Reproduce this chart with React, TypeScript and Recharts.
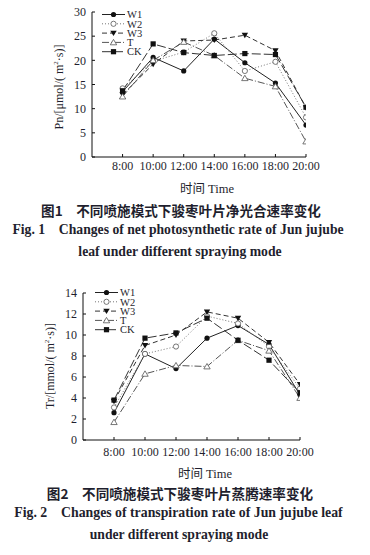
import React from 'react';
import { LineChart, Line, XAxis, YAxis } from 'recharts';

const times = [8, 10, 12, 14, 16, 18, 20];
const timeLabels = ['8:00', '10:00', '12:00', '14:00', '16:00', '18:00', '20:00'];
const seriesNames = ['W1', 'W2', 'W3', 'T', 'CK'];

// Fig. 1 net photosynthetic rate
const pnW1 = [13.5, 20.6, 17.8, 24.4, 19.5, 15.3, 6.6];
const pnW2 = [14.2, 19.8, 21.7, 25.6, 17.8, 19.7, 8.2];
const pnW3 = [12.9, 19.2, 24.0, 24.2, 25.2, 22.0, 10.2];
const pnT = [12.5, 20.0, 23.8, 21.0, 16.3, 14.6, 3.2];
const pnCK = [13.7, 23.4, 21.6, 21.0, 21.4, 21.2, 10.3];
const pnTicks = [0, 5, 10, 15, 20, 25, 30];

// Fig. 2 transpiration rate
const trW1 = [2.6, 8.2, 6.8, 9.7, 10.9, 9.1, 4.3];
const trW2 = [3.1, 8.2, 8.9, 11.8, 11.1, 8.9, 4.9];
const trW3 = [3.7, 9.0, 10.0, 12.2, 11.6, 9.3, 5.3];
const trT = [1.7, 6.3, 7.1, 7.0, 9.5, 8.5, 4.0];
const trCK = [3.8, 9.7, 10.2, 11.6, 9.5, 7.6, 4.5];
const trTicks = [0, 2, 4, 6, 8, 10, 12, 14];

type Shape = 'dot' | 'ring' | 'down' | 'up' | 'square';

const styles: Record<string, { dash?: string; color: string; shape: Shape }> = {
  W1: { color: '#222', shape: 'dot' },
  W2: { dash: '1 2', color: '#777', shape: 'ring' },
  W3: { dash: '5 3', color: '#333', shape: 'down' },
  T: { dash: '7 2 1 2', color: '#555', shape: 'up' },
  CK: { dash: '9 3', color: '#333', shape: 'square' },
};

const makeRows = (cols: number[][]) =>
  times.map((t, i) => {
    const row: Record<string, number> = { t };
    seriesNames.forEach((n, j) => (row[n] = cols[j][i]));
    return row;
  });

const pnData = makeRows([pnW1, pnW2, pnW3, pnT, pnCK]);
const trData = makeRows([trW1, trW2, trW3, trT, trCK]);

const Marker = ({ shape, cx, cy }: { shape: Shape; cx: number; cy: number }) => {
  switch (shape) {
    case 'dot':
      return <circle cx={cx} cy={cy} r={2.6} fill="#111" />;
    case 'ring':
      return <circle cx={cx} cy={cy} r={2.6} fill="#fff" stroke="#555" strokeWidth={0.8} />;
    case 'down':
      return <path d={`M${cx - 3.2},${cy - 2.4}L${cx + 3.2},${cy - 2.4}L${cx},${cy + 3}Z`} fill="#111" />;
    case 'up':
      return <path d={`M${cx - 3.2},${cy + 2.4}L${cx + 3.2},${cy + 2.4}L${cx},${cy - 3}Z`} fill="#fff" stroke="#555" strokeWidth={0.8} />;
    default:
      return <rect x={cx - 2.6} y={cy - 2.6} width={5.2} height={5.2} fill="#111" />;
  }
};

const dotFor = (shape: Shape) => (p: any) => (
  <Marker key={p.key ?? `${p.dataKey}-${p.index}`} shape={shape} cx={p.cx} cy={p.cy} />
);

const textFont = '"Liberation Serif", "Times New Roman", serif';
const tickStyle = { fontSize: 12, fill: '#1f1f2e', fontFamily: textFont };

const LegendBox = ({ left, top }: { left: number; top: number }) => (
  <svg width={60} height={50} style={{ position: 'absolute', left, top, overflow: 'visible' }}>
    {seriesNames.map((n, i) => {
      const y = 4.5 + i * 9.3;
      const s = styles[n];
      return (
        <g key={n}>
          <line x1={0} x2={23} y1={y} y2={y} stroke={s.color} strokeDasharray={s.dash} />
          <Marker shape={s.shape} cx={11.5} cy={y} />
          <text x={25} y={y} dy="0.36em" style={{ ...tickStyle, fontSize: 10.5 }}>{n}</text>
        </g>
      );
    })}
  </svg>
);

const Panel = ({ data, ticks, yMax, margin, tickMarginX }: any) => (
  <LineChart width={370} height={200} data={data} margin={margin}>
    <XAxis
      type="number"
      dataKey="t"
      domain={[6, 20]}
      ticks={times}
      interval={0}
      tickFormatter={(v: number) => timeLabels[times.indexOf(v)]}
      tick={tickStyle}
      tickSize={-3}
      tickMargin={tickMarginX}
      height={30}
      stroke="#111"
      allowDataOverflow
    />
    <YAxis
      type="number"
      domain={[0, yMax]}
      ticks={ticks}
      tick={tickStyle}
      tickSize={-3}
      tickMargin={9}
      width={40}
      stroke="#111"
      interval={0}
    />
    {seriesNames.map((n) => (
      <Line
        key={n}
        dataKey={n}
        stroke={styles[n].color}
        strokeWidth={1}
        strokeDasharray={styles[n].dash}
        dot={dotFor(styles[n].shape)}
        activeDot={false}
        isAnimationActive={false}
        type="linear"
      />
    ))}
  </LineChart>
);

const abs = (extra: React.CSSProperties): React.CSSProperties => ({
  position: 'absolute',
  whiteSpace: 'pre',
  color: '#1f1f2e',
  ...extra,
});

const App = () => (
  <div style={{ position: 'absolute', left: 0, top: 0, width: 370, height: 555, background: '#fff', overflow: 'hidden' }}>
    <div style={{ position: 'absolute', left: 0, top: 0 }}>
      <Panel data={pnData} ticks={pnTicks} yMax={30} margin={{ top: 12, right: 64, bottom: 13, left: 52 }} tickMarginX={7} />
    </div>
    <LegendBox left={102} top={9.5} />
    <div style={abs({ left: 59, top: 87, fontFamily: textFont, fontSize: 12, transform: 'translate(-50%, -50%) rotate(-90deg)' })}>
      Pn/[μmol/( m<sup style={{ fontSize: 7 }}>2</sup>·s)]
    </div>
    <div style={abs({ left: 0, width: 414, top: 178, textAlign: 'center', fontFamily: `${textFont}, "Noto Sans CJK SC"`, fontSize: 12.5 })}>时间 Time</div>
    <div style={abs({ left: 0, width: 362, top: 200, textAlign: 'center', fontFamily: '"Noto Sans CJK SC"', fontWeight: 700, fontSize: 13.6 })}>
      图1　不同喷施模式下骏枣叶片净光合速率变化
    </div>
    <div style={abs({ left: 0, width: 356, top: 222, textAlign: 'center', fontFamily: textFont, fontWeight: 700, fontSize: 13.7 })}>
      Fig. 1    Changes of net photosynthetic rate of Jun jujube
    </div>
    <div style={abs({ left: 0, width: 360, top: 244, textAlign: 'center', fontFamily: textFont, fontWeight: 700, fontSize: 13.7 })}>
      leaf under different spraying mode
    </div>

    <div style={{ position: 'absolute', left: 0, top: 270 }}>
      <Panel data={trData} ticks={trTicks} yMax={14} margin={{ top: 23, right: 70, bottom: 0, left: 43 }} tickMarginX={10} />
    </div>
    <LegendBox left={95} top={288} />
    <div style={abs({ left: 50, top: 366, fontFamily: textFont, fontSize: 12, transform: 'translate(-50%, -50%) rotate(-90deg)' })}>
      Tr/[mmol/( m<sup style={{ fontSize: 7 }}>2</sup>·s)]
    </div>
    <div style={abs({ left: 0, width: 410, top: 463, textAlign: 'center', fontFamily: `${textFont}, "Noto Sans CJK SC"`, fontSize: 12.5 })}>时间 Time</div>
    <div style={abs({ left: 0, width: 360, top: 483, textAlign: 'center', fontFamily: '"Noto Sans CJK SC"', fontWeight: 700, fontSize: 13.6 })}>
      图2　不同喷施模式下骏枣叶片蒸腾速率变化
    </div>
    <div style={abs({ left: 0, width: 357, top: 505, textAlign: 'center', fontFamily: textFont, fontWeight: 700, fontSize: 13.8 })}>
      Fig. 2    Changes of transpiration rate of Jun jujube leaf
    </div>
    <div style={abs({ left: 0, width: 358, top: 527, textAlign: 'center', fontFamily: textFont, fontWeight: 700, fontSize: 13.7 })}>
      under different spraying mode
    </div>
  </div>
);

export default App;
